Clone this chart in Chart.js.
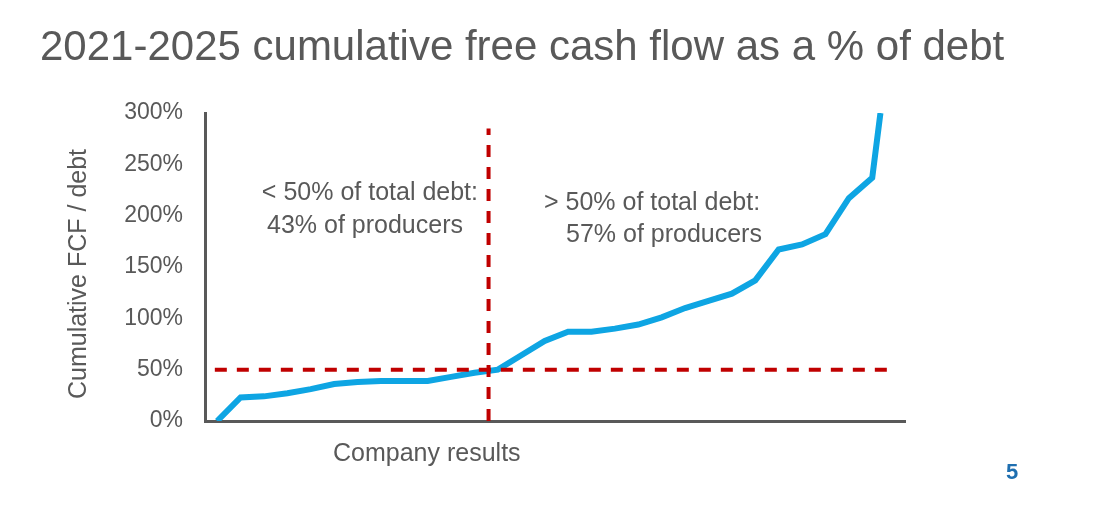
<!DOCTYPE html>
<html>
<head>
<meta charset="utf-8">
<script src="https://cdn.jsdelivr.net/npm/chart.js@4"></script>
<style>
  html, body { margin: 0; padding: 0; background: #fff; }
  #wrap { width: 1101px; height: 515px; }
</style>
</head>
<body>
<div id="wrap"><canvas id="chart"></canvas></div>
<script>
// company rank (sorted) and cumulative FCF / debt (%)
const ranks = [0, 1, 2, 3, 4, 5, 6, 7, 8, 9, 10, 11, 12, 13, 14, 15, 16, 17, 18, 19, 20, 21, 22, 23, 24, 25, 26, 27, 28, 28.35];
const fcfPct = [0, 23, 24, 27, 31, 36, 38, 39, 39, 39, 43, 47, 50, 64, 78, 87, 87, 90, 94, 101, 110, 117, 124, 137, 167, 172, 182, 217, 237, 300];
const yTicks = [0, 50, 100, 150, 200, 250, 300];
const thresholdPct = 50;
const splitRank = 11.6;

const grey = "#595959";
const font = "Arial, 'Liberation Sans', sans-serif";

const textPlugin = {
  id: "texts",
  afterDraw(chart) {
    const c = chart.ctx;
    c.save();
    c.fillStyle = grey;
    c.textBaseline = "alphabetic";
    c.font = "42px " + font;
    c.textAlign = "left";
    c.fillText("2021-2025 cumulative free cash flow as a % of debt", 40, 60);

    c.font = "25px " + font;
    c.textAlign = "right";
    c.fillText("< 50% of total debt:", 478, 200);
    c.fillText("43% of producers", 463, 233);
    c.textAlign = "left";
    c.fillText("> 50% of total debt:", 544, 210);
    c.fillText("57% of producers", 566, 242);

    c.fillText("Company results", 333, 461);

    c.save();
    c.translate(86, 274);
    c.rotate(-Math.PI / 2);
    c.textAlign = "center";
    c.fillText("Cumulative FCF / debt", 0, 0);
    c.restore();

    c.fillStyle = "#1f6fb0";
    c.font = "bold 22px " + font;
    c.textAlign = "left";
    c.fillText("5", 1006, 479);
    c.restore();
  }
};

new Chart(document.getElementById("chart"), {
  type: "line",
  data: {
    datasets: [
      {
        label: "threshold",
        data: [{ x: -0.1, y: thresholdPct }, { x: 28.8, y: thresholdPct }],
        borderColor: "#c00000",
        borderWidth: 4,
        borderDash: [12, 10],
        pointRadius: 0
      },
      {
        label: "split",
        data: [{ x: splitRank, y: 0 }, { x: splitRank, y: 285 }],
        borderColor: "#c00000",
        borderWidth: 4,
        borderDash: [12, 10],
        pointRadius: 0
      },
      {
        label: "FCF / debt",
        data: ranks.map((r, i) => ({ x: r, y: fcfPct[i] })),
        borderColor: "#0ea5e3",
        borderWidth: 6,
        pointRadius: 0,
        tension: 0
      }
    ]
  },
  options: {
    responsive: true,
    maintainAspectRatio: false,
    animation: false,
    layout: { padding: { top: 113, bottom: 86, right: 196, left: 0 } },
    plugins: { legend: { display: false }, tooltip: { enabled: false } },
    scales: {
      x: {
        type: "linear",
        min: -0.52,
        max: 29.4,
        ticks: { display: false },
        grid: { display: false },
        border: { color: grey, width: 3 }
      },
      y: {
        min: 0,
        max: 300,
        afterFit(scale) { scale.width = 205; },
        afterBuildTicks(scale) { scale.ticks = yTicks.map(v => ({ value: v })); },
        ticks: {
          color: grey,
          padding: 22,
          font: { size: 23, family: font },
          callback: v => v + "%"
        },
        grid: { display: false, drawTicks: false },
        border: { color: grey, width: 3 }
      }
    }
  },
  plugins: [textPlugin]
});
</script>
</body>
</html>
